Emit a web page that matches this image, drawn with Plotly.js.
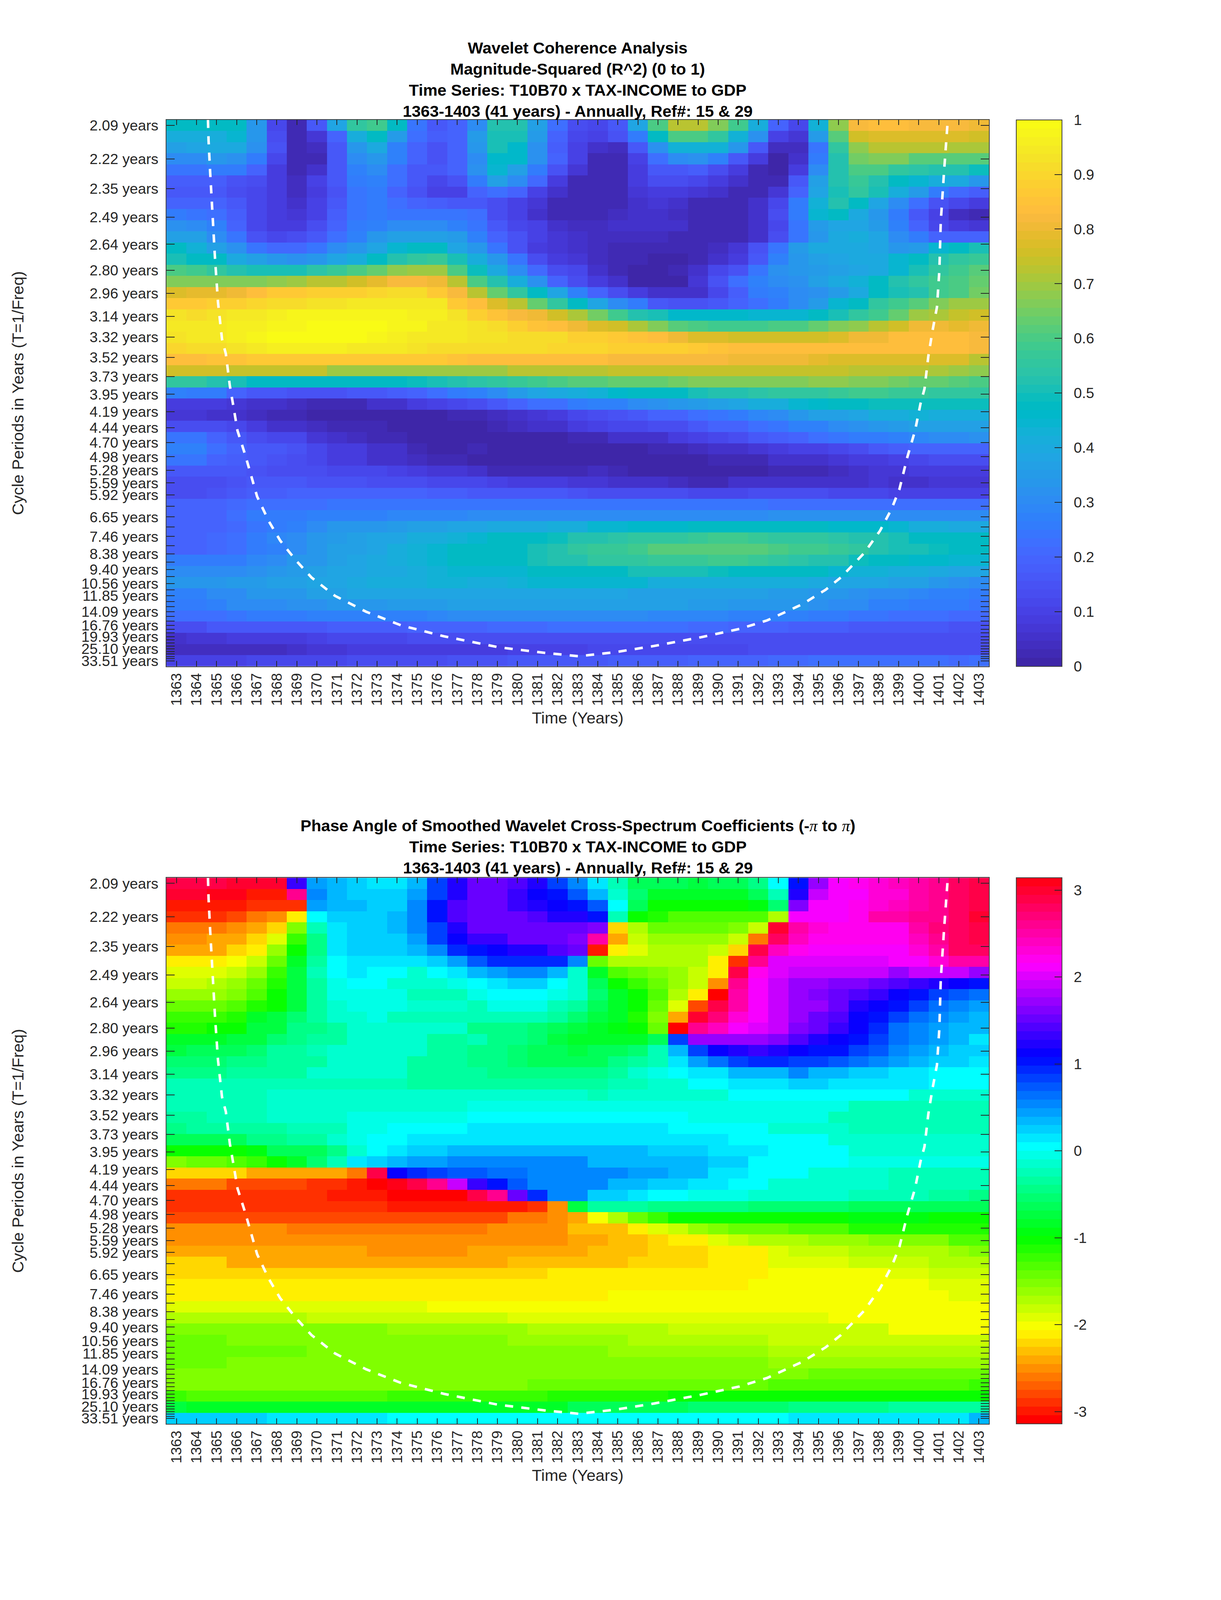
<!DOCTYPE html><html><head><meta charset="utf-8"><script src="https://cdn.plot.ly/plotly-3.0.1.min.js"></script>
<style>html,body{margin:0;padding:0;background:#fff;overflow:hidden}</style></head><body><div id="chart"></div><script>
const years=[1363,1364,1365,1366,1367,1368,1369,1370,1371,1372,1373,1374,1375,1376,1377,1378,1379,1380,1381,1382,1383,1384,1385,1386,1387,1388,1389,1390,1391,1392,1393,1394,1395,1396,1397,1398,1399,1400,1401,1402,1403];
const periods=[2.09,2.22,2.35,2.49,2.64,2.80,2.96,3.14,3.32,3.52,3.73,3.95,4.19,4.44,4.70,4.98,5.28,5.59,5.92,6.27,6.65,7.05,7.46,7.91,8.38,8.88,9.40,9.96,10.56,11.19,11.85,12.56,13.30,14.09,14.93,15.82,16.76,17.76,18.81,19.93,21.12,22.37,23.70,25.10,26.60,28.18,29.85,31.62,33.51];
const unlabelledPeriods=[6.27,7.05,7.91,8.88,9.96,11.19,12.56,13.30,14.93,15.82,17.76,18.81,21.12,22.37,23.70,26.60,28.18,29.85,31.62];
const coiYear=[1364.57,1364.6,1364.68,1364.8,1364.92,1365.07,1365.27,1365.46,1365.66,1365.85,1366.04,1366.43,1366.7,1367.02,1367.6,1368.17,1368.95,1369.73,1370.9,1372.45,1374.19,1376.33,1379.06,1381.37,1383.05,1384.87,1386.81,1389.14,1391.07,1392.44,1394.19,1395.36,1396.12,1397.29,1398.07,1398.65,1399.04,1399.43,1399.82,1400.09,1400.29,1400.48,1400.68,1400.91,1401.03,1401.1,1401.26,1401.34,1401.42,1401.45];
const coiFreq=[.4831,.4655,.4389,.3978,.3671,.3302,.2993,.2871,.2603,.2419,.2228,.2022,.1859,.1675,.1469,.1306,.1141,.0997,.0843,.071,.0596,.0504,.0412,.0365,.0337,.0371,.0423,.0496,.0566,.0637,.0772,.0894,.0997,.1203,.1388,.1572,.1737,.2003,.2228,.2453,.2578,.285,.3056,.3262,.3568,.3978,.4389,.4595,.4758,.4831];
const coherencePct=[
[47,47,47,47,33,12,3,17,38,55,58,47,24,17,20,30,53,53,37,22,13,12,17,38,60,72,72,67,58,42,20,12,43,68,82,84,84,82,82,82,80],
[42,42,42,44,33,14,3,7,20,42,47,35,23,18,20,35,50,50,35,20,12,10,15,25,48,60,60,55,43,32,10,7,35,62,76,78,78,78,78,78,76],
[36,38,40,40,32,15,2,4,17,33,40,28,20,15,20,33,50,46,32,18,10,6,4,16,32,43,43,43,33,17,4,4,24,55,68,73,73,73,73,71,71],
[30,30,33,32,26,12,2,3,17,30,34,27,20,15,19,30,46,46,32,20,10,3,2,10,22,30,32,28,17,8,1,6,25,53,65,66,66,62,62,62,62],
[24,24,26,25,20,8,3,5,17,27,30,23,17,16,20,32,44,36,26,15,7,2,3,9,17,17,18,14,8,3,1,9,30,52,60,60,56,54,52,52,49],
[18,18,18,15,13,9,4,10,17,25,28,22,17,12,15,25,36,31,21,8,3,2,3,8,13,14,11,8,5,2,3,16,36,52,57,53,47,44,41,40,33],
[17,17,17,13,12,8,4,8,15,24,26,20,15,10,10,20,22,20,10,6,2,2,3,7,9,9,7,5,3,3,7,20,38,50,55,50,42,35,25,21,18],
[20,20,20,17,12,8,6,10,17,24,26,22,20,18,16,16,14,10,7,2,2,2,3,6,7,5,3,2,3,5,12,25,43,52,47,38,30,23,15,12,9],
[26,24,23,18,12,8,7,10,18,24,25,24,24,24,24,22,13,10,6,3,3,2,4,6,6,4,3,2,2,5,13,26,45,47,40,34,25,17,10,4,3],
[32,31,28,20,12,9,9,13,20,25,28,30,31,31,28,24,17,12,10,5,4,4,5,5,5,5,3,2,2,5,12,24,35,38,38,35,27,20,12,8,7],
[37,36,30,24,15,12,13,17,22,28,33,37,37,37,35,28,20,15,10,7,6,4,4,4,4,3,2,2,2,5,13,24,33,40,42,38,31,25,20,20,20],
[47,43,37,32,24,21,21,24,30,34,38,44,47,47,39,33,24,15,9,7,6,4,3,3,2,2,2,4,7,15,24,35,40,40,40,38,34,35,44,48,50],
[50,48,47,40,37,33,32,33,38,42,47,53,56,57,50,42,34,24,13,9,7,4,3,2,1,1,3,5,9,17,27,33,37,39,40,40,44,47,53,56,57],
[60,58,56,52,50,50,50,54,57,60,63,68,70,70,60,49,40,31,21,14,11,6,3,1,1,2,5,11,15,24,32,33,35,37,38,40,45,50,55,58,62],
[67,67,66,66,66,68,70,72,73,76,79,82,82,81,72,60,52,42,32,20,14,9,5,1,1,1,7,15,22,27,30,32,37,40,43,48,52,55,58,60,63],
[77,79,79,81,84,86,87,88,88,89,90,91,91,87,82,72,64,55,47,38,28,20,14,8,5,5,6,12,18,25,27,30,32,35,40,47,50,52,58,60,65],
[87,86,88,89,90,91,92,93,93,94,95,95,95,95,87,84,78,72,63,55,48,38,31,25,16,15,15,17,20,22,26,30,35,45,47,55,58,61,66,70,70],
[93,92,93,94,95,96,97,97,97,97,97,98,96,96,93,88,85,82,80,76,71,65,58,53,50,46,46,46,46,44,44,44,47,50,55,59,63,70,71,74,76],
[94,94,95,96,96,98,98,99,100,100,99,97,97,95,94,93,91,88,85,84,81,78,75,71,67,62,60,58,58,59,60,60,63,66,68,72,76,80,80,79,80],
[93,94,95,96,98,99,99,99,99,99,98,96,95,95,94,93,93,92,91,91,89,88,87,85,83,80,78,77,76,75,75,75,76,78,80,81,83,84,84,83,82],
[90,91,92,93,95,96,96,96,96,95,95,94,93,92,92,92,92,91,91,90,90,90,89,89,88,88,86,85,84,84,83,83,83,83,83,83,83,83,83,83,82],
[84,84,85,85,87,87,87,87,87,87,87,87,87,87,85,84,84,84,84,84,84,84,82,82,82,82,82,82,81,81,80,80,79,78,78,78,78,78,77,77,73],
[75,75,75,74,74,74,74,74,70,70,70,70,70,70,70,70,70,73,73,73,73,73,74,74,74,74,74,74,74,74,74,74,74,74,73,73,73,72,71,70,68],
[55,55,53,50,47,47,47,47,47,47,47,48,49,50,52,54,56,57,58,60,61,62,63,64,64,65,66,66,66,66,67,67,68,68,67,66,65,63,63,62,60],
[27,26,25,20,17,16,15,15,15,17,17,18,20,22,25,28,31,35,38,40,41,43,46,47,47,48,50,52,53,54,55,56,56,57,58,58,57,57,56,56,56],
[8,8,8,7,6,5,4,3,3,3,5,6,9,10,12,14,16,19,22,23,26,27,28,30,32,33,35,37,38,41,42,44,46,47,48,49,49,49,49,49,49],
[7,7,6,5,4,3,2,1,1,1,1,1,1,1,2,3,4,6,7,9,12,13,15,17,19,20,22,24,26,29,30,33,36,37,39,41,42,43,42,42,42],
[13,14,13,12,8,6,5,4,3,2,2,1,1,1,1,1,2,4,5,5,8,10,11,12,13,14,16,19,20,22,24,27,28,30,32,34,35,36,36,36,37],
[24,24,20,17,14,12,11,7,5,4,3,2,1,1,1,1,1,1,1,1,2,3,6,6,6,8,10,12,13,16,18,20,23,24,25,26,27,29,30,30,32],
[27,27,22,19,17,17,15,12,9,8,6,5,2,1,1,2,1,1,1,1,1,1,1,1,3,3,4,5,6,7,9,10,10,12,14,16,18,20,20,20,20],
[24,24,20,18,17,15,13,12,9,8,6,5,4,3,3,1,1,1,0,0,0,0,0,0,0,1,1,2,2,3,5,5,6,7,9,9,10,12,13,13,13],
[16,16,16,16,15,14,14,13,11,11,11,10,9,7,7,6,3,3,2,2,3,4,2,0,0,1,1,1,1,1,2,2,3,4,5,7,7,8,8,8,8],
[13,13,14,15,16,16,16,15,15,15,14,13,13,12,12,11,10,9,8,8,7,7,6,6,5,4,3,3,5,5,5,6,6,6,6,7,6,6,7,7,7],
[13,13,15,17,18,18,19,19,20,20,20,19,19,18,18,17,17,17,16,16,15,14,13,13,13,13,12,12,12,13,13,13,13,12,12,12,10,10,10,10,10],
[19,20,20,21,22,23,23,23,24,24,24,24,24,24,24,24,24,24,24,24,24,24,24,24,24,24,24,24,24,24,23,23,23,23,23,23,22,22,22,22,22],
[19,20,20,22,25,26,26,27,28,28,28,29,29,29,29,30,30,30,30,30,30,31,31,31,31,31,31,31,31,31,32,32,32,32,32,32,30,30,31,31,31],
[20,20,20,21,24,25,27,30,33,33,34,35,36,37,38,39,40,40,40,42,42,44,44,46,46,46,47,47,47,47,47,47,47,46,46,46,44,42,41,40,40],
[20,20,21,22,26,29,31,33,35,36,38,39,41,42,43,45,47,47,48,49,52,53,54,55,55,56,57,58,58,57,56,55,55,54,53,52,50,48,47,47,47],
[20,20,21,23,26,28,31,34,36,37,39,41,43,45,47,48,48,48,50,53,56,57,57,59,61,61,62,62,62,61,60,59,58,57,56,53,51,50,49,48,47],
[25,25,25,26,29,31,33,34,37,39,40,42,43,45,47,47,47,47,51,53,53,55,56,56,57,57,57,58,58,57,56,54,53,52,49,48,47,46,46,45,45],
[30,30,30,30,32,33,35,37,38,39,40,40,42,43,44,45,45,45,47,47,47,47,48,50,50,50,50,49,48,47,47,47,47,45,43,43,42,41,40,39,38],
[33,34,34,35,35,36,37,38,39,40,41,42,42,43,43,42,42,43,45,45,45,45,45,44,42,42,42,42,41,41,41,41,40,38,38,38,37,36,33,32,31],
[27,28,30,31,33,33,34,36,37,38,38,38,38,38,39,39,39,39,39,39,39,39,38,37,37,37,37,37,36,36,35,35,34,33,32,31,30,29,27,27,26],
[25,26,28,30,31,31,32,32,33,34,34,35,35,35,36,36,37,37,37,37,37,37,37,36,36,36,35,35,34,34,33,33,32,31,30,28,27,26,25,25,24],
[22,22,23,24,25,26,26,27,27,27,28,28,28,29,30,30,30,30,30,30,30,30,30,30,29,29,29,29,28,28,28,27,26,25,24,24,23,22,22,21,21],
[14,14,16,16,16,17,17,17,18,18,18,18,19,20,20,20,21,21,21,22,22,22,22,22,22,22,21,21,20,19,19,18,18,18,17,17,16,16,16,15,15],
[6,7,7,8,9,9,9,10,12,12,12,12,13,13,13,14,14,14,14,14,14,14,14,14,14,14,14,14,14,14,14,14,14,14,14,14,14,13,13,13,13],
[4,4,4,4,4,4,6,7,7,8,8,8,8,9,9,9,9,10,10,10,10,11,11,11,12,12,12,12,12,13,13,14,14,14,14,14,14,14,14,13,13],
[10,10,10,10,11,12,12,12,12,13,13,13,14,14,15,15,15,16,17,17,17,17,18,18,18,18,19,19,20,20,21,21,22,22,22,22,22,22,22,21,22]];
const phaseAngle=[
[2.9,2.9,2.9,3,3,3,1.35,.48,.35,.2,.1,.1,.3,.8,1.25,1.5,1.5,1.4,1.2,.85,.5,.13,-.25,-.6,-.65,-.65,-.7,-.65,-.6,-.4,0,1.05,1.75,2.1,2.2,2.35,2.4,2.5,2.65,2.8,2.9],
[3,3,3.14,3.14,-3,-3,2.6,.52,.35,.2,.2,.2,.4,.85,1.25,1.5,1.5,1.3,1.1,1.05,.7,.35,-.15,-.5,-.8,-.85,-.85,-.85,-.8,-.6,-.25,1.2,1.9,2.1,2.15,2.3,2.35,2.5,2.6,2.8,2.9],
[-3,-3,-2.95,-2.95,-2.85,-2.85,-2.85,.4,.35,.35,.2,.2,.52,1.05,1.4,1.5,1.5,1.35,1.25,1.15,1.05,.7,0,-.65,-1,-1.05,-1.05,-1.05,-1.05,-.95,-.5,1.65,2.1,2.15,2.2,2.35,2.4,2.5,2.6,2.75,2.9],
[-2.85,-2.85,-2.85,-2.75,-2.6,-2.5,-2.09,0,.2,.2,.2,.33,.52,1.05,1.4,1.5,1.5,1.5,1.4,1.25,1.25,1.05,-.2,-1.05,-1.15,-1.3,-1.3,-1.3,-1.3,-1.3,-1.7,2.15,2.15,2.15,2.25,2.5,2.5,2.6,2.65,2.75,2.95],
[-2.65,-2.65,-2.65,-2.55,-2.45,-2.2,-1.55,-.25,.1,.2,.2,.35,.55,.85,1.25,1.5,1.5,1.5,1.5,1.5,1.5,1.65,-2.25,-1.7,-1.45,-1.45,-1.45,-1.45,-1.55,-1.8,3,2.55,2.3,2.2,2.2,2.25,2.25,2.5,2.7,2.75,2.85],
[-2.55,-2.55,-2.45,-2.4,-2.2,-1.95,-1.2,-.45,.1,.2,.2,.2,.4,.8,1.15,1.3,1.3,1.5,1.5,1.5,1.65,2.55,-2.4,-1.85,-1.65,-1.65,-1.65,-1.65,-1.85,-2.65,2.8,2.4,2.2,2.2,2.2,2.2,2.25,2.45,2.65,2.8,2.85],
[-2.38,-2.38,-2.38,-2.2,-2.09,-1.6,-1.05,-.4,.12,.22,.22,.22,.33,.55,.9,1.05,1.1,1.25,1.25,1.4,1.55,-2.95,-2.15,-1.95,-1.75,-1.75,-1.75,-1.85,-2.25,2.9,2.45,2.25,2.1,2.1,2.1,2.1,2.15,2.3,2.55,2.75,2.8],
[-2.15,-2.15,-2.15,-2.05,-1.85,-1.4,-.8,-.3,0,.12,.12,.12,.12,.26,.48,.7,.9,.9,.9,.9,.52,-1.45,-1.75,-1.75,-1.75,-1.75,-1.75,-2.09,-2.85,2.6,2.05,2,2,2,2,2,2.1,2.15,2.3,2.5,2.55],
[-1.95,-1.95,-1.95,-1.85,-1.6,-1.25,-.75,-.25,0,.15,0,0,-.1,0,.12,.35,.42,.5,.5,.33,-.1,-.8,-1.3,-1.45,-1.55,-1.6,-1.85,-2.15,2.9,2.2,2,1.9,1.9,1.9,1.9,1.9,1.75,1.9,1.9,1.9,1.75],
[-1.85,-1.85,-1.75,-1.65,-1.4,-1.15,-.75,-.3,-.08,0,0,-.1,-.17,-.17,-.08,0,.12,.2,.2,0,-.17,-.6,-1.05,-1.25,-1.45,-1.6,-1.85,-2.55,2.6,2.1,1.9,1.75,1.75,1.65,1.65,1.55,1.45,1.3,1.2,1.1,1],
[-1.65,-1.65,-1.65,-1.5,-1.3,-1.05,-.75,-.3,-.08,-.08,-.08,-.08,-.2,-.2,-.2,-.08,0,0,0,-.08,-.17,-.55,-.8,-1.05,-1.3,-1.75,-2.15,-3.14,2.5,2.1,1.9,1.75,1.65,1.55,1.45,1.3,1.15,1,.85,.7,.6],
[-1.45,-1.45,-1.45,-1.3,-1.1,-1.05,-.7,-.35,-.15,-.08,-.08,-.08,-.17,-.17,-.17,-.2,-.08,-.08,-.08,-.2,-.35,-.6,-.8,-1.05,-1.45,-1.95,-2.75,2.85,2.5,2.1,1.9,1.75,1.7,1.55,1.25,1.1,1,.8,.6,.5,.42],
[-1.25,-1.25,-1.2,-1.1,-.85,-.7,-.5,-.3,-.17,-.15,-.08,-.2,-.2,-.2,-.2,-.2,-.2,-.2,-.2,-.35,-.5,-.7,-.85,-1.15,-1.55,-2.45,3,2.7,2.35,2.1,1.9,1.75,1.5,1.4,1.15,1.05,.85,.65,.52,.42,.33],
[-1.1,-1.1,-1.05,-1.05,-.75,-.75,-.45,-.4,-.35,-.15,-.15,-.15,-.15,-.15,-.15,-.4,-.4,-.4,-.5,-.65,-.75,-.85,-.95,-1.05,-1.4,-3.14,2.6,2.4,2.1,2,1.9,1.65,1.55,1.3,1.1,.9,.65,.55,.42,.37,.33],
[-.85,-.85,-.85,-.75,-.75,-.5,-.4,-.3,-.3,-.15,-.15,-.15,-.15,-.3,-.3,-.25,-.45,-.45,-.55,-.7,-.8,-.85,-.85,-.85,-.65,.85,1.75,1.75,1.75,1.75,1.6,1.4,1.25,1.1,1.05,.8,.6,.5,.42,.33,.18],
[-.75,-.65,-.65,-.65,-.5,-.35,-.35,-.25,-.15,-.15,-.15,-.15,-.15,-.3,-.3,-.45,-.45,-.5,-.65,-.65,-.7,-.65,-.65,-.5,-.25,.33,.85,1.1,1.2,1.3,1.2,1.1,1.05,1,.8,.7,.52,.42,.35,.22,.22],
[-.5,-.5,-.5,-.45,-.45,-.3,-.3,-.3,-.17,-.17,-.17,-.17,-.3,-.3,-.3,-.42,-.42,-.5,-.6,-.6,-.6,-.6,-.45,-.3,-.22,.12,.42,.6,.8,.9,.9,.85,.85,.7,.62,.52,.42,.33,.22,.22,.1],
[-.45,-.45,-.45,-.35,-.35,-.35,-.35,-.17,-.17,-.17,-.17,-.17,-.35,-.35,-.35,-.35,-.45,-.45,-.45,-.45,-.45,-.42,-.3,-.17,-.08,0,.1,.18,.3,.38,.38,.5,.38,.38,.28,.28,.18,.18,.08,.08,.08],
[-.28,-.28,-.28,-.28,-.28,-.28,-.2,-.2,-.2,-.2,-.2,-.2,-.35,-.35,-.35,-.35,-.35,-.35,-.35,-.35,-.35,-.35,-.25,-.25,-.1,-.1,0,0,.1,.1,.1,.22,.22,.1,.1,.1,.1,.1,0,0,0],
[-.28,-.28,-.28,-.28,-.28,-.17,-.17,-.17,-.17,-.17,-.17,-.17,-.17,-.17,-.17,-.17,-.17,-.17,-.17,-.17,-.17,-.22,-.17,-.17,-.17,-.17,-.17,-.17,0,0,0,0,0,0,0,0,0,-.12,-.12,-.12,-.12],
[-.28,-.28,-.28,-.28,-.28,-.17,-.17,-.17,-.17,-.17,-.17,-.17,-.17,-.17,-.17,-.08,-.08,-.08,-.08,-.08,-.08,-.08,-.08,-.08,-.08,-.08,-.08,-.08,-.08,-.08,-.08,-.08,-.08,-.08,-.22,-.22,-.22,-.22,-.22,-.22,-.22],
[-.38,-.38,-.28,-.28,-.28,-.15,-.15,-.15,-.15,-.08,-.08,-.08,-.08,-.08,-.08,0,0,0,0,0,0,0,0,0,0,0,-.08,-.08,-.08,-.08,-.08,-.08,-.08,-.2,-.2,-.2,-.2,-.2,-.2,-.2,-.2],
[-.45,-.38,-.38,-.38,-.3,-.3,-.2,-.2,-.2,-.08,-.08,0,0,0,0,.1,.1,.1,.1,.1,.1,.12,.12,.12,.12,0,0,0,0,0,-.1,-.1,-.1,-.1,-.2,-.2,-.2,-.2,-.2,-.2,-.2],
[-.65,-.6,-.6,-.6,-.42,-.42,-.3,-.3,-.17,-.08,0,0,.1,.1,.18,.18,.18,.18,.18,.18,.18,.18,.18,.18,.18,.1,.1,.1,0,0,0,0,0,-.1,-.1,-.1,-.1,-.17,-.17,-.17,-.17],
[-1,-1,-1,-1,-.9,-.65,-.65,-.65,-.4,-.15,0,.1,.22,.22,.3,.3,.3,.3,.3,.3,.3,.3,.3,.3,.2,.2,.2,.15,.15,.1,0,0,0,0,-.1,-.1,-.1,-.1,-.1,-.1,-.1],
[-1.55,-1.4,-1.4,-1.3,-1.2,-1.05,-.85,-.55,-.25,.12,.25,.37,.47,.47,.55,.55,.55,.5,.5,.5,.5,.35,.35,.35,.3,.3,.3,.2,.2,0,0,0,0,0,-.08,-.08,-.08,-.08,-.08,-.08,-.08],
[-2.2,-2.2,-2.2,-2.2,-2.38,-2.38,-2.38,-2.45,-2.45,-2.65,2.9,1.15,.95,.8,.7,.7,.6,.6,.55,.55,.5,.5,.5,.4,.4,.3,.3,.15,.15,0,0,0,-.1,-.1,-.1,-.1,-.2,-.2,-.2,-.2,-.2],
[-2.65,-2.65,-2.65,-2.75,-2.75,-2.75,-2.75,-2.85,-2.85,-2.95,-3.05,3.05,2.85,2.65,1.9,1.3,1.05,.7,.55,.5,.5,.5,.38,.38,.22,.22,.12,.12,0,0,-.12,-.12,-.12,-.12,-.12,-.12,-.22,-.22,-.22,-.22,-.22],
[-2.85,-2.85,-2.85,-2.85,-2.85,-2.85,-2.85,-2.85,-2.95,-2.95,-2.95,-3.05,-3.05,-3.14,-3.14,2.9,2.6,1.55,.95,.55,.55,.25,.25,.1,0,0,-.08,-.08,-.08,-.17,-.17,-.17,-.17,-.17,-.28,-.28,-.28,-.28,-.35,-.35,-.4],
[-2.85,-2.85,-2.85,-2.85,-2.85,-2.85,-2.85,-2.85,-2.85,-2.85,-2.85,-2.95,-2.95,-2.95,-2.95,-2.95,-2.95,-2.95,-2.85,-2.5,-.75,-.35,-.35,-.35,-.42,-.42,-.42,-.42,-.42,-.5,-.5,-.5,-.5,-.5,-.6,-.6,-.6,-.6,-.6,-.6,-.6],
[-2.75,-2.75,-2.75,-2.75,-2.75,-2.75,-2.75,-2.75,-2.75,-2.75,-2.75,-2.75,-2.75,-2.75,-2.75,-2.75,-2.75,-2.65,-2.65,-2.55,-2.4,-2,-1.7,-1.4,-1.2,-1.05,-1.05,-1.05,-1,-1,-1,-1,-1,-1,-.95,-.95,-.95,-.95,-1,-1,-1],
[-2.55,-2.55,-2.55,-2.55,-2.55,-2.55,-2.65,-2.65,-2.65,-2.65,-2.65,-2.65,-2.65,-2.65,-2.65,-2.65,-2.55,-2.55,-2.55,-2.5,-2.35,-2.35,-2.3,-2.1,-1.95,-1.85,-1.6,-1.55,-1.45,-1.45,-1.45,-1.3,-1.3,-1.3,-1.15,-1.15,-1.15,-1.15,-1.15,-1.15,-1.15],
[-2.5,-2.5,-2.5,-2.5,-2.5,-2.5,-2.5,-2.5,-2.5,-2.5,-2.5,-2.5,-2.5,-2.5,-2.5,-2.5,-2.5,-2.5,-2.5,-2.5,-2.42,-2.42,-2.33,-2.33,-2.2,-2.1,-2.1,-1.95,-1.85,-1.75,-1.75,-1.75,-1.6,-1.6,-1.6,-1.5,-1.5,-1.5,-1.5,-1.35,-1.35],
[-2.38,-2.38,-2.38,-2.38,-2.38,-2.38,-2.38,-2.38,-2.38,-2.38,-2.5,-2.5,-2.5,-2.5,-2.5,-2.38,-2.38,-2.38,-2.38,-2.38,-2.38,-2.28,-2.28,-2.28,-2.18,-2.18,-2.18,-2.08,-2.08,-2.08,-1.95,-1.85,-1.85,-1.85,-1.75,-1.75,-1.7,-1.7,-1.7,-1.65,-1.55],
[-2.25,-2.25,-2.25,-2.38,-2.38,-2.38,-2.38,-2.38,-2.38,-2.38,-2.38,-2.38,-2.38,-2.38,-2.38,-2.38,-2.38,-2.3,-2.3,-2.3,-2.3,-2.3,-2.3,-2.18,-2.18,-2.18,-2.18,-2.1,-2.1,-2.1,-1.95,-1.95,-1.95,-1.95,-1.85,-1.85,-1.85,-1.85,-1.75,-1.75,-1.75],
[-2.25,-2.25,-2.25,-2.25,-2.25,-2.25,-2.25,-2.25,-2.25,-2.25,-2.25,-2.25,-2.25,-2.25,-2.25,-2.25,-2.25,-2.25,-2.25,-2.13,-2.13,-2.13,-2.13,-2.13,-2.13,-2.08,-2.08,-2.08,-2.08,-2.08,-1.98,-1.98,-1.98,-1.98,-1.98,-1.98,-1.9,-1.9,-1.85,-1.85,-1.85],
[-2.15,-2.15,-2.15,-2.15,-2.15,-2.15,-2.15,-2.15,-2.15,-2.15,-2.15,-2.15,-2.15,-2.15,-2.15,-2.15,-2.15,-2.15,-2.15,-2.15,-2.08,-2.08,-2.08,-2.08,-2.08,-2.08,-2.08,-2.08,-2.08,-1.98,-1.98,-1.98,-1.98,-1.98,-1.98,-1.98,-1.98,-1.98,-1.88,-1.88,-1.88],
[-2.08,-2.08,-2.08,-2.08,-2.08,-2.08,-2.08,-2.08,-2.08,-2.08,-2.08,-2.08,-2.08,-2.08,-2.08,-2.08,-2.08,-2.08,-2.08,-2.08,-2.08,-2.08,-1.98,-1.98,-1.98,-1.98,-1.98,-1.98,-1.98,-1.98,-1.98,-1.98,-1.98,-1.98,-1.98,-1.98,-1.98,-1.98,-1.98,-1.88,-1.88],
[-1.88,-1.88,-1.88,-1.88,-1.88,-1.88,-1.88,-1.88,-1.88,-1.88,-1.88,-1.88,-1.88,-1.98,-1.98,-1.98,-1.98,-1.98,-1.98,-1.98,-1.98,-1.98,-1.98,-1.98,-1.98,-1.98,-1.98,-1.98,-1.98,-1.98,-1.98,-1.98,-1.98,-1.98,-1.98,-1.98,-1.98,-1.98,-1.98,-1.98,-1.98],
[-1.75,-1.75,-1.75,-1.75,-1.75,-1.75,-1.75,-1.83,-1.83,-1.83,-1.83,-1.83,-1.83,-1.83,-1.83,-1.83,-1.83,-1.9,-1.9,-1.9,-1.9,-1.9,-1.9,-1.9,-1.9,-1.9,-1.9,-1.9,-1.9,-1.9,-1.9,-1.9,-1.9,-1.98,-1.98,-1.98,-1.98,-1.98,-1.98,-1.98,-1.98],
[-1.5,-1.5,-1.5,-1.5,-1.57,-1.57,-1.57,-1.57,-1.57,-1.57,-1.57,-1.65,-1.65,-1.65,-1.65,-1.65,-1.65,-1.65,-1.75,-1.75,-1.75,-1.75,-1.75,-1.75,-1.75,-1.85,-1.85,-1.85,-1.85,-1.85,-1.85,-1.85,-1.85,-1.85,-1.85,-1.85,-1.98,-1.98,-1.98,-1.98,-1.98],
[-1.4,-1.4,-1.4,-1.5,-1.5,-1.5,-1.5,-1.5,-1.5,-1.5,-1.5,-1.57,-1.57,-1.57,-1.57,-1.57,-1.57,-1.65,-1.65,-1.65,-1.65,-1.65,-1.65,-1.75,-1.75,-1.75,-1.75,-1.75,-1.75,-1.75,-1.85,-1.85,-1.85,-1.85,-1.85,-1.85,-1.85,-1.85,-1.85,-1.85,-1.85],
[-1.4,-1.4,-1.4,-1.4,-1.4,-1.4,-1.4,-1.5,-1.5,-1.5,-1.5,-1.5,-1.5,-1.5,-1.57,-1.57,-1.57,-1.57,-1.57,-1.57,-1.57,-1.57,-1.65,-1.65,-1.65,-1.65,-1.65,-1.65,-1.65,-1.65,-1.75,-1.75,-1.75,-1.75,-1.75,-1.75,-1.75,-1.75,-1.75,-1.75,-1.75],
[-1.4,-1.4,-1.4,-1.5,-1.5,-1.5,-1.5,-1.5,-1.5,-1.5,-1.5,-1.5,-1.5,-1.5,-1.5,-1.5,-1.57,-1.57,-1.57,-1.57,-1.57,-1.57,-1.57,-1.57,-1.57,-1.57,-1.57,-1.57,-1.57,-1.57,-1.65,-1.65,-1.65,-1.65,-1.65,-1.65,-1.65,-1.65,-1.65,-1.65,-1.65],
[-1.5,-1.5,-1.5,-1.5,-1.5,-1.5,-1.5,-1.5,-1.5,-1.5,-1.5,-1.5,-1.5,-1.5,-1.5,-1.5,-1.5,-1.5,-1.5,-1.5,-1.5,-1.5,-1.5,-1.5,-1.5,-1.5,-1.5,-1.5,-1.5,-1.5,-1.5,-1.5,-1.45,-1.45,-1.45,-1.45,-1.45,-1.45,-1.45,-1.45,-1.45],
[-1.48,-1.48,-1.48,-1.48,-1.48,-1.48,-1.48,-1.48,-1.48,-1.48,-1.48,-1.48,-1.48,-1.48,-1.48,-1.48,-1.48,-1.48,-1.4,-1.4,-1.4,-1.4,-1.4,-1.4,-1.4,-1.4,-1.4,-1.4,-1.4,-1.4,-1.3,-1.3,-1.3,-1.3,-1.3,-1.3,-1.3,-1.3,-1.3,-1.3,-1.25],
[-1.25,-1.33,-1.33,-1.33,-1.33,-1.33,-1.33,-1.33,-1.33,-1.33,-1.33,-1.25,-1.25,-1.25,-1.25,-1.25,-1.25,-1.25,-1.25,-1.13,-1.13,-1.13,-1.13,-1.13,-1.13,-1.05,-1.05,-1.05,-1.05,-1.05,-1.05,-1.05,-1.05,-1.05,-1.05,-1.05,-1.05,-1,-1,-1,-1],
[-.75,-.8,-.8,-.8,-.8,-.87,-.87,-.87,-.87,-.87,-.87,-.87,-.87,-.8,-.8,-.8,-.8,-.8,-.8,-.8,-.65,-.65,-.65,-.65,-.65,-.65,-.58,-.58,-.58,-.58,-.58,-.45,-.45,-.45,-.45,-.45,-.35,-.35,-.35,-.35,-.35],
[.22,.22,.22,.22,.22,.13,.13,.13,.13,.13,.13,.05,.05,.05,.05,.05,.05,.05,.05,.05,0,0,0,0,0,0,0,0,0,0,0,.12,.12,.12,.12,.12,.12,.12,.12,.12,.3]];
const parula=[[.2422,.1504,.6603],[.2504,.165,.7076],[.2578,.1818,.7511],[.2647,.1978,.7952],[.2706,.2147,.8364],[.2751,.2342,.871],[.2783,.2559,.8991],[.2803,.2782,.9221],[.2813,.3006,.9414],[.281,.3228,.9579],[.2795,.3447,.9717],[.276,.3667,.9829],[.2699,.3892,.9906],[.2602,.4123,.9952],[.244,.4358,.9988],[.2206,.4603,.9973],[.1963,.4847,.9892],[.1834,.5074,.9798],[.1786,.5289,.9682],[.1764,.5499,.952],[.1687,.5703,.9359],[.154,.5902,.9218],[.146,.6091,.9079],[.138,.6276,.8973],[.1248,.6459,.8883],[.1113,.6635,.8763],[.0952,.6798,.8598],[.0689,.6948,.8394],[.0297,.7082,.8163],[.0036,.7203,.7917],[.0067,.7312,.766],[.0433,.7411,.7394],[.0964,.75,.712],[.1408,.7584,.6842],[.1717,.767,.6554],[.1938,.7758,.6251],[.2161,.7843,.5923],[.247,.7918,.5567],[.2906,.7973,.5188],[.3406,.8008,.4789],[.3909,.8029,.4354],[.4456,.8024,.3909],[.5044,.7993,.348],[.5616,.7942,.3045],[.6174,.7876,.2612],[.672,.7793,.2227],[.7242,.7698,.191],[.7738,.7598,.1646],[.8203,.7498,.1535],[.8634,.7406,.1596],[.9035,.733,.1774],[.9393,.7288,.21],[.9728,.7298,.2394],[.9956,.7434,.2371],[.997,.7659,.2199],[.9952,.7893,.2028],[.9892,.8136,.1885],[.9786,.8386,.1766],[.9676,.8639,.1643],[.961,.889,.1537],[.9597,.9135,.1423],[.9628,.9373,.1265],[.9691,.9606,.1064],[.9769,.9839,.0805]];
function hsv(h){const s=h*6,i=Math.floor(s),f=s-i;return [[1,f,0],[1-f,1,0],[0,1,f],[0,1-f,1],[f,0,1],[1,0,1-f]][i%6];}
const hsv64=[];for(let i=0;i<64;i++)hsv64.push(hsv(i/64));
function stepped(t){const o=[];t.forEach((c,i)=>{const s='rgb('+c.map(v=>Math.round(v*255)).join(',')+')';o.push([i/64,s]);o.push([(i+1)/64,s]);});return o;}
/* The reference is 3125x6252. The renderer caps the window height (4096 observed),
   so heights and fonts scale to the real window; at 6252 S is 1 and the layout is the reference's. */
const W=3125,H0=6252,S=Math.min(1,window.innerHeight/H0),H=Math.round(H0*S),ink='#262626';
const font=s=>({family:'"Liberation Sans",Arial,sans-serif',size:s*S,color:ink});
const tickFont=57.6,labelFont=63.4;
const f0=1/periods[0],fn=1/periods[48],st=(f0-fn)/48;
const rowFreq=periods.map((_,i)=>f0-i*st);
const tv=periods.map(p=>1/p),tt=periods.map(p=>unlabelledPeriods.includes(p)?'':p.toFixed(2)+' years');
const labelsLeft=401-5.225*tickFont*S,yTitleStandoff=Math.max(2,labelsLeft-46-labelFont*S/2-2);
function ax(top,bot){return {x:{domain:[426/W,2531/W],range:[1362.5,1403.5],tickmode:'array',tickvals:years,ticktext:years.map(String),tickangle:-90,ticks:'inside',ticklen:21*S,tickwidth:2,tickcolor:ink,linecolor:'#404040',linewidth:2,mirror:'allticks',showgrid:false,zeroline:false,tickfont:font(tickFont),ticklabelstandoff:12*S,title:{text:'Time (Years)',font:font(labelFont),standoff:26*S},automargin:false},
y:{domain:[1-bot/H0,1-top/H0],range:[fn-st/2,f0+st/2],tickmode:'array',tickvals:tv,ticktext:tt,ticks:'inside',ticklen:21,tickwidth:2,tickcolor:ink,linecolor:'#404040',linewidth:2,mirror:'allticks',showgrid:false,zeroline:false,tickfont:font(tickFont),ticklabelstandoff:11,title:{text:'Cycle Periods in Years (T=1/Freq)',font:font(labelFont),standoff:yTitleStandoff},automargin:false}};}
const a1=ax(468,2604),a2=ax(3430,5564);
a1.x.anchor='y';a1.y.anchor='x';a2.x.anchor='y2';a2.y.anchor='x2';
const pad='\u00a0\u00a0';
function cb(top,len,vals,txt){return {x:2601/W,xanchor:'left',xpad:0,y:1-top/H0,yanchor:'top',ypad:0,lenmode:'pixels',len:len*S,thicknessmode:'pixels',thickness:117,outlinecolor:'#404040',outlinewidth:2,ticks:'inside',ticklen:20,tickwidth:2,tickcolor:ink,tickmode:'array',tickvals:vals,ticktext:txt.map(t=>pad+t),tickfont:font(tickFont)};}
const line={color:'#fff',width:8*Math.sqrt(S),dash:(32*S)+'px,'+(32*S)+'px'};
const coherence=coherencePct.map(r=>r.map(v=>v/100));
const data=[
{type:'heatmap',x:years,y:rowFreq,z:coherence,zmin:0,zmax:1,zsmooth:false,colorscale:stepped(parula),xaxis:'x',yaxis:'y',colorbar:cb(468,2136,[0,.1,.2,.3,.4,.5,.6,.7,.8,.9,1],['0','0.1','0.2','0.3','0.4','0.5','0.6','0.7','0.8','0.9','1'])},
{type:'scatter',mode:'lines',x:coiYear,y:coiFreq,line,xaxis:'x',yaxis:'y',showlegend:false},
{type:'heatmap',x:years,y:rowFreq,z:phaseAngle,zmin:-Math.PI,zmax:Math.PI,zsmooth:false,colorscale:stepped(hsv64),xaxis:'x2',yaxis:'y2',colorbar:cb(3430,2134,[-3,-2,-1,0,1,2,3],['-3','-2','-1','0','1','2','3'])},
{type:'scatter',mode:'lines',x:coiYear,y:coiFreq,line,xaxis:'x2',yaxis:'y2',showlegend:false}];
const tf={family:'"Liberation Sans",Arial,sans-serif',size:labelFont*S,color:'#000'};
const pi='<span style="font-family:\'Liberation Serif\';font-weight:normal"><i>π</i></span>';
const layout={width:W,height:H,margin:{l:0,r:0,t:0,b:0,pad:0},paper_bgcolor:'#fff',plot_bgcolor:'#fff',showlegend:false,
title:{text:'<b>Wavelet Coherence Analysis<br>Magnitude-Squared (R^2) (0 to 1)<br>Time Series: T10B70 x TAX-INCOME to GDP<br>1363-1403 (41 years) - Annually, Ref#: 15 &amp; 29</b>',font:tf,x:1478.5/W,xanchor:'center',xref:'paper',y:1-209/H0,yanchor:'top',yref:'paper'},
xaxis:a1.x,yaxis:a1.y,xaxis2:a2.x,yaxis2:a2.y,
annotations:[{xref:'paper',yref:'paper',x:1478.5/W,y:1-3187/H0,xanchor:'center',yanchor:'top',showarrow:false,font:tf,align:'center',text:'<b>Phase Angle of Smoothed Wavelet Cross-Spectrum Coefficients (-'+pi+' to '+pi+')<br>Time Series: T10B70 x TAX-INCOME to GDP<br>1363-1403 (41 years) - Annually, Ref#: 15 &amp; 29</b>'}]};
Plotly.newPlot('chart',data,layout,{displayModeBar:false,staticPlot:true});
</script></body></html>
